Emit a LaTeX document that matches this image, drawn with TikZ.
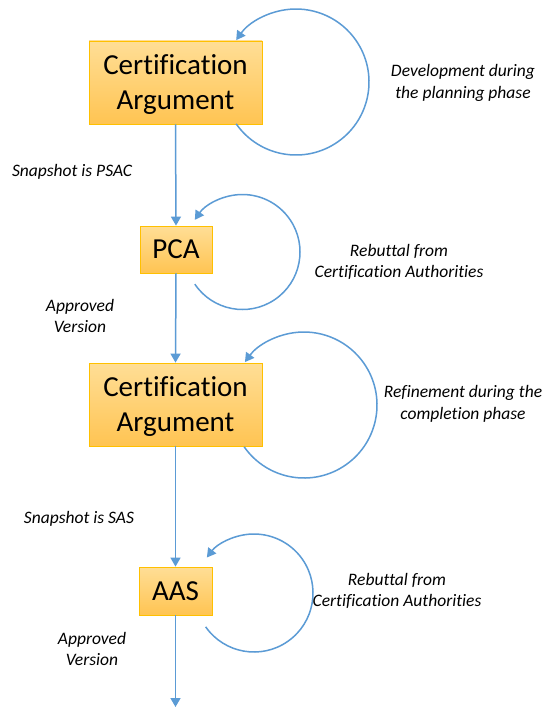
\documentclass[tikz,border=0pt]{standalone}
\usepackage{fontspec}
\setmainfont{Carlito}[Ligatures={NoCommon,NoRequired,NoContextual}]
\usetikzlibrary{arrows.meta,calc}

\definecolor{flowblue}{RGB}{91,155,213}
\definecolor{boxtop}{RGB}{255,222,150}
\definecolor{boxbottom}{RGB}{255,196,82}
\definecolor{boxedge}{RGB}{255,192,0}

\tikzset{
  artefact/.style={draw=boxedge, line width=0.8pt, top color=boxtop, bottom color=boxbottom,
    align=center, inner sep=0pt,
    font=\fontsize{29}{35}\selectfont},
  flow/.style={draw=flowblue, line width=1.5pt, -{Triangle[width=10pt,length=9pt]}},
  cycle/.style={draw=flowblue, line width=1.5pt, -{Triangle[width=10pt,length=9pt]}},
  note/.style={align=center, inner sep=0pt, font=\fontsize{17.5}{21.5}\selectfont\itshape}
}

\begin{document}
\begin{tikzpicture}[x=1pt,y=1pt]
  \useasboundingbox[fill=white] (0,0) rectangle (547,-709);

  % main sequence of artefacts
  \node[artefact, minimum width=173pt, minimum height=83pt, text depth=0pt] (ca1) at (175.5,-82.5) {Certification\\Argument};
  \node[artefact, minimum width=72pt, minimum height=47pt] (pca) at (176,-249.5) {PCA};
  \node[artefact, minimum width=173pt, minimum height=83pt, text depth=0pt] (ca2) at (175.5,-404.5) {Certification\\Argument};
  \node[artefact, minimum width=73pt, minimum height=48pt] (aas) at (175.5,-591) {AAS};
  \coordinate (out) at (175.5,-707);

  % forward transitions
  \draw[flow] (ca1.south) -- (pca.north);
  \draw[flow] (pca.south) -- (ca2.north);
  \draw[flow] (ca2.south) -- (aas.north);
  \draw[flow] (aas.south) -- (out);

  % iteration loops
  \coordinate (l1) at (296,-82);
  \coordinate (l2) at (242.5,-252);
  \coordinate (l3) at (304,-405);
  \coordinate (l4) at (254,-593);
  \draw[cycle] ($(l1)+(-145:73pt)$) arc[start angle=-145, end angle=145, radius=73pt];
  \draw[cycle] ($(l2)+(-146:57.5pt)$) arc[start angle=-146, end angle=146, radius=57.5pt];
  \draw[cycle] ($(l3)+(-145:73pt)$) arc[start angle=-145, end angle=144, radius=73pt];
  \draw[cycle] ($(l4)+(-145:59pt)$) arc[start angle=-145, end angle=143, radius=59pt];

  % annotations
  \node[note] (t1) at (463,-83) {Development during\\the planning phase};
  \node[note] (t2) at (72,-172) {Snapshot is PSAC};
  \node[note] (t3) at (399,-262) {Rebuttal from\\Certification Authorities};
  \node[note] (t4) at (80,-316) {Approved\\Version};
  \node[note] (t5) at (463,-404) {Refinement during the\\completion phase};
  \node[note] (t6) at (79,-519) {Snapshot is SAS};
  \node[note] (t7) at (397,-591) {Rebuttal from\\Certification Authorities};
  \node[note] (t8) at (92,-649) {Approved\\Version};
\end{tikzpicture}
\end{document}
